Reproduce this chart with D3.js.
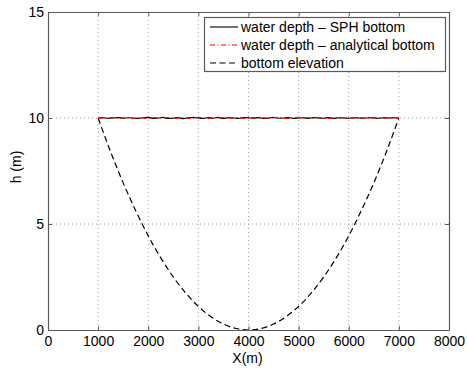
<!DOCTYPE html>
<html>
<head>
<meta charset="utf-8">
<script src="https://cdn.jsdelivr.net/npm/d3@7"></script>
<style>
  html, body { margin: 0; padding: 0; background: #fff; }
  svg { display: block; }
  text { font-family: "Liberation Sans", Arial, Helvetica, sans-serif; fill: #000; }
</style>
</head>
<body>
<svg id="chart" width="467" height="368"></svg>
<script>
// Along-channel positions (m) of the water-depth samples
const waterX = [
  1000, 1100, 1200, 1300, 1400, 1500, 1600, 1700, 1800, 1900,
  2000, 2100, 2200, 2300, 2400, 2500, 2600, 2700, 2800, 2900,
  3000, 3100, 3200, 3300, 3400, 3500, 3600, 3700, 3800, 3900,
  4000, 4100, 4200, 4300, 4400, 4500, 4600, 4700, 4800, 4900,
  5000, 5100, 5200, 5300, 5400, 5500, 5600, 5700, 5800, 5900,
  6000, 6100, 6200, 6300, 6400, 6500, 6600, 6700, 6800, 6900,
  7000
];
// Water depth with the SPH-discretised bottom (m)
const waterSPH = [
  10.00, 10.01, 9.99, 10.00, 10.02, 9.99, 10.01, 10.00, 9.98, 10.01,
  10.03, 9.98, 10.00, 10.03, 9.98, 9.99, 10.02, 9.97, 10.01, 10.03,
  10.00, 9.98, 10.02, 9.99, 10.03, 9.98, 10.01, 10.00, 9.98, 10.02,
  10.01, 9.99, 10.02, 9.98, 10.00, 10.03, 9.99, 10.00, 10.02, 9.98,
  10.00, 10.01, 9.98, 10.02, 10.00, 9.99, 10.02, 9.98, 10.01, 10.00,
  9.99, 10.01, 10.00, 9.99, 10.01, 10.00, 9.99, 10.01, 10.00, 10.01,
  10.00
];
// Water depth with the analytical bottom (m)
const waterAnalytical = [
  10.00, 9.99, 10.01, 10.02, 9.99, 10.00, 10.02, 9.98, 10.01, 10.00,
  9.99, 10.02, 9.99, 10.01, 10.02, 9.98, 10.00, 10.03, 9.99, 9.98,
  10.02, 10.01, 9.98, 10.02, 10.00, 10.03, 9.98, 10.01, 10.02, 9.99,
  9.98, 10.02, 10.00, 10.01, 9.98, 10.01, 10.02, 9.99, 9.98, 10.02,
  10.01, 9.99, 10.01, 9.99, 10.02, 10.00, 9.98, 10.01, 10.00, 10.02,
  10.00, 9.99, 10.01, 10.00, 9.99, 10.01, 10.00, 9.99, 10.01, 10.00,
  10.00
];
// Bottom elevation profile (m)
const bottomX = [
  1000, 1250, 1500, 1750, 2000, 2250, 2500, 2750, 3000, 3250, 3500, 3750,
  4000, 4250, 4500, 4750, 5000, 5250, 5500, 5750, 6000, 6250, 6500, 6750, 7000
];
const bottomZ = [
  10.00, 8.40, 6.94, 5.63, 4.44, 3.40, 2.50, 1.74, 1.11, 0.63, 0.28, 0.07,
  0.00, 0.07, 0.28, 0.63, 1.11, 1.74, 2.50, 3.40, 4.44, 5.63, 6.94, 8.40, 10.00
];
// Axis ticks
const xTicks = [0, 1000, 2000, 3000, 4000, 5000, 6000, 7000, 8000];
const yTicks = [0, 5, 10, 15];
// Legend entries
const legendLabels = [
  "water depth \u2013 SPH bottom",
  "water depth \u2013 analytical bottom",
  "bottom elevation"
];

(function draw() {
  const svg = d3.select("#chart");
  const mLeft = 48, mRight = 449, mTop = 12, mBottom = 330;
  const x = d3.scaleLinear().domain([0, 8000]).range([mLeft, mRight]);
  const y = d3.scaleLinear().domain([0, 15]).range([mBottom, mTop]);
  const boxColor = "#5a5a5a";
  const fmt = d3.format("d");

  // Dotted grid
  const grid = svg.append("g");
  grid.selectAll("line.gx").data(xTicks.slice(1, -1)).join("line")
    .attr("x1", d => x(d)).attr("x2", d => x(d))
    .attr("y1", mTop).attr("y2", mBottom)
    .attr("stroke", "#a0a0a0").attr("stroke-width", 1)
    .attr("stroke-dasharray", "1,3");
  grid.selectAll("line.gy").data(yTicks.slice(1, -1)).join("line")
    .attr("x1", mLeft).attr("x2", mRight)
    .attr("y1", d => y(d)).attr("y2", d => y(d))
    .attr("stroke", "#a0a0a0").attr("stroke-width", 1)
    .attr("stroke-dasharray", "1,3");

  // Series styles: SPH, analytical, bottom
  const styles = [
    { color: "#000", dash: null },
    { color: "#ff0000", dash: "5,2.5,1,2.5" },
    { color: "#000", dash: "6,3.5" }
  ];
  const lineFn = d3.line().x(d => x(d[0])).y(d => y(d[1])).curve(d3.curveMonotoneX);

  svg.append("path")
    .datum(bottomX.map((v, i) => [v, bottomZ[i]]))
    .attr("d", lineFn).attr("fill", "none")
    .attr("stroke", styles[2].color).attr("stroke-width", 1.2)
    .attr("stroke-dasharray", styles[2].dash);
  svg.append("path")
    .datum(waterX.map((v, i) => [v, waterSPH[i]]))
    .attr("d", lineFn).attr("fill", "none")
    .attr("stroke", styles[0].color).attr("stroke-width", 1.1);
  svg.append("path")
    .datum(waterX.map((v, i) => [v, waterAnalytical[i]]))
    .attr("d", lineFn).attr("fill", "none")
    .attr("stroke", styles[1].color).attr("stroke-width", 1.1)
    .attr("stroke-dasharray", styles[1].dash);

  // Axes with inward ticks on all four sides
  const axB = svg.append("g").attr("transform", `translate(0,${mBottom})`)
    .call(d3.axisBottom(x).tickValues(xTicks).tickFormat(fmt)
      .tickSizeInner(-4).tickSizeOuter(0).tickPadding(6));
  const axT = svg.append("g").attr("transform", `translate(0,${mTop})`)
    .call(d3.axisTop(x).tickValues(xTicks).tickSizeInner(-4).tickSizeOuter(0).tickFormat(""));
  const axL = svg.append("g").attr("transform", `translate(${mLeft},0)`)
    .call(d3.axisLeft(y).tickValues(yTicks).tickFormat(fmt)
      .tickSizeInner(-4).tickSizeOuter(0).tickPadding(4));
  const axR = svg.append("g").attr("transform", `translate(${mRight},0)`)
    .call(d3.axisRight(y).tickValues(yTicks).tickSizeInner(-4).tickSizeOuter(0).tickFormat(""));
  [axB, axT, axL, axR].forEach(g => {
    g.select(".domain").attr("stroke", boxColor).attr("stroke-width", 1.2);
    g.selectAll(".tick line").attr("stroke", boxColor);
    g.selectAll("text").attr("font-size", 14)
      .attr("font-family", "Liberation Sans, Arial, sans-serif").attr("fill", "#000");
  });

  // Axis titles
  svg.append("text").attr("x", (mLeft + mRight) / 2 - 1).attr("y", 363)
    .attr("text-anchor", "middle").attr("font-size", 14).text("X(m)");
  svg.append("text").attr("transform", "translate(21,167) rotate(-90)")
    .attr("text-anchor", "middle").attr("font-size", 14).text("h (m)");

  // Legend
  const lg = svg.append("g");
  lg.append("rect").attr("x", 204.5).attr("y", 17.5).attr("width", 241).attr("height", 54)
    .attr("fill", "#fff").attr("stroke", boxColor).attr("stroke-width", 1.2);
  legendLabels.forEach((lab, i) => {
    const ly = 27 + i * 18;
    lg.append("line").attr("x1", 210).attr("x2", 238).attr("y1", ly).attr("y2", ly)
      .attr("stroke", styles[i].color).attr("stroke-width", 1.1)
      .attr("stroke-dasharray", styles[i].dash);
    lg.append("text").attr("x", 241).attr("y", ly).attr("dy", "0.35em")
      .attr("font-size", 14).text(lab);
  });
})();
</script>
</body>
</html>
